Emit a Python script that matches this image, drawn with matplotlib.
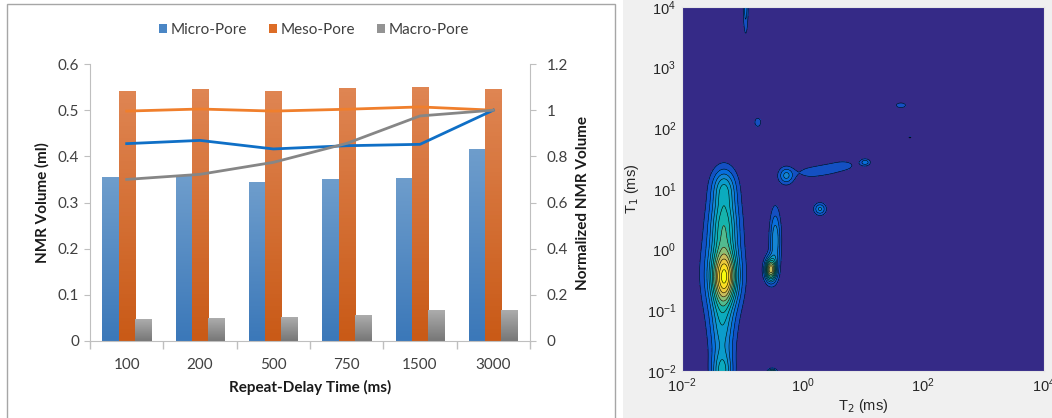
import numpy as np
import matplotlib
matplotlib.use("Agg")
import matplotlib.pyplot as plt
from matplotlib.colors import LinearSegmentedColormap
from matplotlib.patches import Patch, Rectangle
from matplotlib.ticker import FixedLocator, FuncFormatter

# pore volumes per repeat-delay time
delays = ["100", "200", "500", "750", "1500", "3000"]
micro = [0.354, 0.357, 0.344, 0.349, 0.352, 0.414]
meso = [0.5415, 0.545, 0.5415, 0.5466, 0.550, 0.545]
macro = [0.0455, 0.048, 0.051, 0.056, 0.065, 0.067]

# volumes normalized to the 3000 ms value
micro_norm = [0.855, 0.869, 0.832, 0.846, 0.852, 1.0]
meso_norm = [0.996, 1.005, 0.996, 1.004, 1.014, 1.0]
macro_norm = [0.700, 0.722, 0.774, 0.856, 0.975, 1.0]

# T1-T2 map components: log10 T2, log10 T1, widths (decades), amplitude
peak_t2 = [-1.29, -1.33, -1.30, -1.30, -1.33, -1.33, -0.53, -0.45, -0.50,
           -0.27, 0.10, 0.40, 0.70, 1.04, 0.29, -0.74, 1.63, 1.78, -0.94]
peak_t1 = [-0.45, -0.40, 0.45, 1.05, -1.30, -2.05, -0.33, 0.15, -2.05,
           1.22, 1.27, 1.32, 1.39, 1.44, 0.67, 2.10, 2.38, 1.85, 4.05]
peak_w2 = [0.14, 0.22, 0.16, 0.14, 0.14, 0.12, 0.065, 0.065, 0.05,
           0.09, 0.18, 0.18, 0.18, 0.06, 0.07, 0.05, 0.08, 0.04, 0.03]
peak_w1 = [0.30, 0.50, 0.40, 0.22, 0.45, 0.25, 0.13, 0.35, 0.05,
           0.10, 0.08, 0.08, 0.08, 0.04, 0.07, 0.07, 0.04, 0.02, 0.35]
peak_amp = [0.60, 0.28, 0.45, 0.25, 0.30, 0.35, 0.70, 0.30, 0.60,
            0.25, 0.09, 0.09, 0.09, 0.20, 0.25, 0.12, 0.12, 0.085, 0.20]

micro_grad = ["#3b78b9", "#6e9dcc"]
meso_grad = ["#c95a17", "#df8552"]
macro_grad = ["#777777", "#acacac"]

fig = plt.figure(figsize=(10.52, 4.18), dpi=100)
W, H = 1052, 418

# frame around the bar chart and grey panel behind the map
fig.patches.append(Rectangle((7 / W, -0.02), (614.5 - 7) / W, (418 - 4) / H + 0.02,
                             transform=fig.transFigure, facecolor="white",
                             edgecolor="#a6a6a6", lw=1.0, zorder=-10))
fig.patches.append(Rectangle((623 / W, 0), 1 - 623 / W, 1, transform=fig.transFigure,
                             facecolor="#f0f0f0", edgecolor="none", zorder=-10))

plt.rcParams["font.family"] = ["Lato", "DejaVu Sans"]
txt = "#404040"

ax = fig.add_axes([90 / W, (H - 341) / H, 440 / W, 277 / H])
ax.patch.set_alpha(0)
x = np.arange(len(delays))
bw = 1 / 4.5

for vals, off, grad in [(micro, -bw, micro_grad), (meso, 0, meso_grad), (macro, bw, macro_grad)]:
    cmap = LinearSegmentedColormap.from_list("g", grad)
    bars = ax.bar(x + off, vals, width=bw, color="none", edgecolor="none")
    for b in bars:
        x0, w, h = b.get_x(), b.get_width(), b.get_height()
        ax.imshow(np.linspace(0, 1, 64).reshape(-1, 1), cmap=cmap, origin="lower",
                  extent=[x0, x0 + w, 0, h], aspect="auto", zorder=2)

ax.set_xlim(-0.5, len(delays) - 0.5)
ax.set_ylim(0, 0.6)
ax.set_yticks(np.arange(0, 0.61, 0.1))
ax.set_yticklabels(["0", "0.1", "0.2", "0.3", "0.4", "0.5", "0.6"])
ax.set_xticks(x)
ax.set_xticklabels(delays)
ax.xaxis.set_minor_locator(FixedLocator(np.arange(-0.5, len(delays), 1)))
ax.tick_params(axis="x", which="major", length=0, pad=12, labelsize=11, labelcolor=txt)
ax.tick_params(axis="x", which="minor", length=6, color="#bfbfbf", width=1)
ax.tick_params(axis="y", length=4, color="#bfbfbf", labelsize=11, labelcolor=txt, pad=4)
for s in ["top", "right"]:
    ax.spines[s].set_visible(False)
for s in ["left", "bottom"]:
    ax.spines[s].set_color("#bfbfbf")
ax.set_xlabel("Repeat-Delay Time (ms)", fontsize=11, fontweight="bold", color="#1a1a1a", labelpad=6)
ax.set_ylabel("NMR Volume (ml)", fontsize=11, fontweight="bold", color="#1a1a1a", labelpad=6)

ax2 = ax.twinx()
ax2.plot(x, meso_norm, color="#f07f2c", lw=2)
ax2.plot(x, micro_norm, color="#0f6fc6", lw=2)
ax2.plot(x, macro_norm, color="#868686", lw=2)
ax2.set_ylim(0, 1.2)
ax2.set_yticks(np.arange(0, 1.21, 0.2))
ax2.set_yticklabels(["0", "0.2", "0.4", "0.6", "0.8", "1", "1.2"])
ax2.tick_params(axis="y", length=4, color="#bfbfbf", labelsize=11, labelcolor=txt, pad=8)
for s in ["top", "left", "bottom"]:
    ax2.spines[s].set_visible(False)
ax2.spines["right"].set_color("#bfbfbf")
ax2.set_ylabel("Normalized NMR Volume", fontsize=11, fontweight="bold", color="#1a1a1a", labelpad=6)

handles = [Patch(facecolor=c, edgecolor="none") for c in ["#4a86c5", "#dd6d26", "#939393"]]
fig.legend(handles, ["Micro-Pore", "Meso-Pore", "Macro-Pore"], loc="center",
           bbox_to_anchor=(314 / W, 1 - 30 / H), ncol=3, frameon=False, fontsize=11,
           handlelength=0.55, handleheight=0.55, handletextpad=0.25, columnspacing=1.4,
           labelcolor=txt)

# parula-like colour scale for the T1-T2 map
parula = LinearSegmentedColormap.from_list("parula", [
    "#352a87", "#0363e1", "#1485d4", "#06a7c6", "#15b3ad",
    "#6fbf80", "#c9bd5c", "#fcce2e", "#f9fb0e"])

lt2 = np.linspace(-2, 4, 600)
lt1 = np.linspace(-2, 4, 600)
X, Y = np.meshgrid(lt2, lt1)
Z = np.zeros_like(X)
for a, b, sa, sb, amp in zip(peak_t2, peak_t1, peak_w2, peak_w1, peak_amp):
    Z += amp * np.exp(-((X - a) ** 2 / (2 * sa ** 2) + (Y - b) ** 2 / (2 * sb ** 2)))

levels = np.linspace(0, 1.0, 14)
band_colors = [parula(v) for v in np.linspace(0, 1, len(levels) - 1)]

ax3 = fig.add_axes([681.7 / W, (H - 371) / H, (1044 - 681.7) / W, 364 / H])
T2, T1 = 10 ** X, 10 ** Y
ax3.contourf(T2, T1, np.clip(Z, 0, 0.999), levels=levels, colors=band_colors)
ax3.contour(T2, T1, Z, levels=levels[1:], colors="black", linewidths=0.4)
ax3.set_xscale("log")
ax3.set_yscale("log")
ax3.set_xlim(1e-2, 1e4)
ax3.set_ylim(1e-2, 1e4)

mat_txt = "#262626"
fmt = FuncFormatter(lambda v, p: r"$\mathregular{10^{%d}}$" % round(np.log10(v)))
ax3.xaxis.set_major_locator(FixedLocator([1e-2, 1e0, 1e2, 1e4]))
ax3.yaxis.set_major_locator(FixedLocator([10.0 ** k for k in range(-2, 5)]))
ax3.xaxis.set_minor_locator(FixedLocator([]))
ax3.yaxis.set_minor_locator(FixedLocator([]))
ax3.xaxis.set_major_formatter(fmt)
ax3.yaxis.set_major_formatter(fmt)
ax3.tick_params(length=0, labelsize=10.5, labelcolor=mat_txt, pad=4)
for lab in ax3.get_xticklabels() + ax3.get_yticklabels():
    lab.set_family("Liberation Sans")
for s in ax3.spines.values():
    s.set_color("#e6e6e6")
    s.set_linewidth(0.8)
ax3.set_xlabel(r"T$_2$ (ms)", fontsize=10.5, color=mat_txt, family="Liberation Sans", labelpad=1)
ax3.set_ylabel(r"T$_1$ (ms)", fontsize=10.5, color=mat_txt, family="Liberation Sans", labelpad=4)

fig.savefig("out.png", dpi=100)
